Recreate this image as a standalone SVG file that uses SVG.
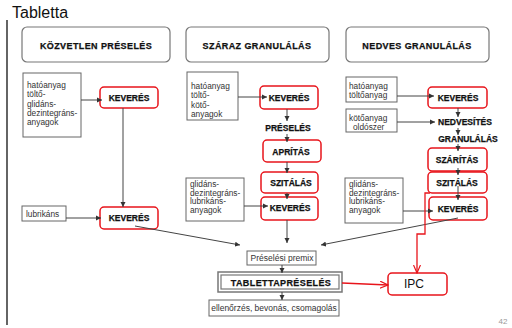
<svg xmlns="http://www.w3.org/2000/svg" width="512" height="328" viewBox="0 0 512 328">
<style>
.hdr{fill:#fff;stroke:#777;stroke-width:1.2}
.box{fill:#fff;stroke:#666;stroke-width:1}
.red{fill:none;stroke:#e8141b;stroke-width:1.5}
.ht{font-family:"Liberation Sans",Arial,sans-serif;font-weight:bold;font-size:9px;letter-spacing:0.4px;fill:#111;stroke:#111;stroke-width:0.25;text-anchor:middle}
.bt{font-family:"Liberation Sans",Arial,sans-serif;font-weight:bold;font-size:8.5px;fill:#111;stroke:#111;stroke-width:0.25;text-anchor:middle}
.nt{font-family:"Liberation Sans",Arial,sans-serif;font-size:8.3px;fill:#333}
.ct{font-family:"Liberation Sans",Arial,sans-serif;font-size:8.5px;fill:#333;text-anchor:middle}
.con path{fill:none;stroke:#444;stroke-width:1}
.rcon path{fill:none;stroke:#e8141b;stroke-width:1.3}
</style>
<defs>
<marker id="a" markerUnits="userSpaceOnUse" markerWidth="6" markerHeight="6" refX="5" refY="3" orient="auto"><path d="M0,0.5 L5,3 L0,5.5 z" fill="#333"/></marker>
<marker id="r" markerUnits="userSpaceOnUse" markerWidth="9" markerHeight="8" refX="8" refY="4" orient="auto"><path d="M0,0.5 L8,4 L0,7.5" fill="none" stroke="#e8141b" stroke-width="1.2"/></marker>
</defs>
<rect width="512" height="328" fill="#fff"/>
<text x="12" y="18" font-family="Liberation Sans,Arial,sans-serif" font-size="16" fill="#111">Tabletta</text>
<line x1="7" y1="20" x2="7" y2="325" stroke="#111" stroke-width="1.3"/>

<g id="h1"><rect class="hdr" x="22" y="27" width="148" height="35" rx="5"/><text class="ht" x="96" y="48.5">KÖZVETLEN PRÉSELÉS</text></g>
<g id="h2"><rect class="hdr" x="186" y="27" width="143" height="35" rx="5"/><text class="ht" x="257" y="48.5">SZÁRAZ GRANULÁLÁS</text></g>
<g id="h3"><rect class="hdr" x="346" y="27" width="143" height="35" rx="5"/><text class="ht" x="417" y="48.5">NEDVES GRANULÁLÁS</text></g>

<g id="l_in"><rect class="box" x="23" y="73" width="58" height="64"/>
<text class="nt" x="27" y="88"><tspan x="27">hatóanyag</tspan><tspan x="27" dy="9.3">töltő-</tspan><tspan x="27" dy="9.3">glidáns-</tspan><tspan x="27" dy="9.3">dezintegráns-</tspan><tspan x="27" dy="9.3">anyagok</tspan></text></g>
<g id="l_kev1"><rect class="red" x="100" y="87" width="58" height="21" rx="4"/><text class="bt" x="129" y="101">KEVERÉS</text></g>
<g id="l_lub"><rect class="box" x="22" y="206" width="44" height="15"/><text class="nt" x="26" y="216.5">lubrikáns</text></g>
<g id="l_kev2"><rect class="red" x="100" y="207" width="58" height="22" rx="4"/><text class="bt" x="129" y="221">KEVERÉS</text></g>

<g id="m_in"><rect class="box" x="187" y="72" width="51" height="48"/>
<text class="nt" x="191" y="89"><tspan x="191">hatóanyag</tspan><tspan x="191" dy="9.3">töltő-</tspan><tspan x="191" dy="9.3">kötő-</tspan><tspan x="191" dy="9.3">anyagok</tspan></text></g>
<g id="m_kev1"><rect class="red" x="260" y="86" width="58" height="23" rx="4"/><text class="bt" x="289" y="100.5">KEVERÉS</text></g>
<g id="m_pres"><text class="bt" x="288" y="131">PRÉSELÉS</text></g>
<g id="m_apr"><rect class="red" x="263" y="140" width="58" height="22" rx="4"/><text class="bt" x="291" y="154.5">APRÍTÁS</text></g>
<g id="m_szit"><rect class="red" x="261" y="172" width="57" height="21" rx="4"/><text class="bt" x="291" y="185.5">SZITÁLÁS</text></g>
<g id="m_gl"><rect class="box" x="186" y="178" width="58" height="43"/>
<text class="nt" x="190" y="187"><tspan x="190">glidáns-</tspan><tspan x="190" dy="8.6">dezintegráns-</tspan><tspan x="190" dy="8.6">lubrikáns-</tspan><tspan x="190" dy="8.6">anyagok</tspan></text></g>
<g id="m_kev2"><rect class="red" x="261" y="197" width="57" height="23" rx="4"/><text class="bt" x="290" y="211">KEVERÉS</text></g>

<g id="r_in1"><rect class="box" x="346" y="77" width="51" height="25"/>
<text class="nt" x="349" y="88.5"><tspan x="349">hatóanyag</tspan><tspan x="349" dy="9.5">töltőanyag</tspan></text></g>
<g id="r_kev1"><rect class="red" x="428" y="87" width="59" height="21" rx="4"/><text class="bt" x="458" y="100.5">KEVERÉS</text></g>
<g id="r_in2"><rect class="box" x="346" y="109" width="51" height="23"/>
<text class="nt" x="349" y="120.5"><tspan x="349">kötőanyag</tspan><tspan x="353" dy="9.5">oldószer</tspan></text></g>
<g id="r_nedv"><text class="bt" x="465" y="125">NEDVESÍTÉS</text></g>
<g id="r_gran"><text class="bt" x="468" y="142">GRANULÁLÁS</text></g>
<g id="r_szar"><rect class="red" x="428" y="148" width="59" height="23" rx="4"/><text class="bt" x="457" y="163">SZÁRÍTÁS</text></g>
<g id="r_szit"><rect class="red" x="428" y="172" width="59" height="21" rx="4"/><text class="bt" x="457" y="186">SZITÁLÁS</text></g>
<g id="r_gl"><rect class="box" x="345" y="178" width="58" height="45"/>
<text class="nt" x="349" y="187"><tspan x="349">glidáns-</tspan><tspan x="349" dy="8.6">dezintegráns-</tspan><tspan x="349" dy="8.6">lubrikáns-</tspan><tspan x="349" dy="8.6">anyagok</tspan></text></g>
<g id="r_kev2"><rect class="red" x="429" y="197" width="58" height="23" rx="4"/><text class="bt" x="458" y="212">KEVERÉS</text></g>

<g id="premix"><rect class="box" x="247" y="251" width="69" height="14"/><text class="ct" x="282" y="261">Préselési premix</text></g>
<g id="tabl"><rect x="218" y="272" width="124" height="20" fill="#fff" stroke="#777" stroke-width="1.5"/><rect x="221" y="275" width="118" height="14" fill="none" stroke="#777" stroke-width="1.2"/><text class="ht" x="281" y="285.5" font-size="9.5" letter-spacing="0.7">TABLETTAPRÉSELÉS</text></g>
<g id="ell"><rect class="box" x="209" y="300" width="130" height="16" stroke="#aaa"/><text class="ct" x="274" y="311">ellenőrzés, bevonás, csomagolás</text></g>
<g id="ipc"><rect x="388" y="273" width="59" height="22" rx="4" fill="#fff" stroke="#e8141b" stroke-width="1.5"/><text x="414" y="288" font-family="Liberation Sans,Arial,sans-serif" font-size="12" fill="#111" text-anchor="middle">IPC</text></g>

<g class="con">
<path d="M81,100 H102" marker-end="url(#a)"/>
<path d="M123,108 V207" marker-end="url(#a)"/>
<path d="M66,218 H101" marker-end="url(#a)"/>
<path d="M135,226 L240,245" marker-end="url(#a)"/>
<path d="M238,97 H267" marker-end="url(#a)"/>
<path d="M287,109 V121" marker-end="url(#a)"/>
<path d="M287,134 V142" marker-end="url(#a)"/>
<path d="M287,162 V173" marker-end="url(#a)"/>
<path d="M287,193 V199" marker-end="url(#a)"/>
<path d="M244,206 H268" marker-end="url(#a)"/>
<path d="M287,220 V243" marker-end="url(#a)"/>
<path d="M458,218 L321,245" marker-end="url(#a)"/>
<path d="M282,265 V273" marker-end="url(#a)"/>
<path d="M282,292 V300" marker-end="url(#a)"/>
<path d="M397,96 H434" marker-end="url(#a)"/>
<path d="M397,122 H435" marker-end="url(#a)"/>
<path d="M458,108 V117" marker-end="url(#a)"/>
<path d="M458,128 V135" marker-end="url(#a)"/>
<path d="M458,144 V151" marker-end="url(#a)"/>
<path d="M458,168 V175" marker-end="url(#a)"/>
<path d="M458,186 V200" marker-end="url(#a)"/>
<path d="M403,211 H433" marker-end="url(#a)"/>
</g>
<g class="rcon">
<path d="M342,283 L388,285" marker-end="url(#r)"/>
<path d="M430,193 H425 V234 H417 V273" marker-end="url(#r)"/>
</g>
<text x="503" y="324" font-family="Liberation Sans,Arial,sans-serif" font-size="8" fill="#999" text-anchor="middle">42</text>
</svg>
